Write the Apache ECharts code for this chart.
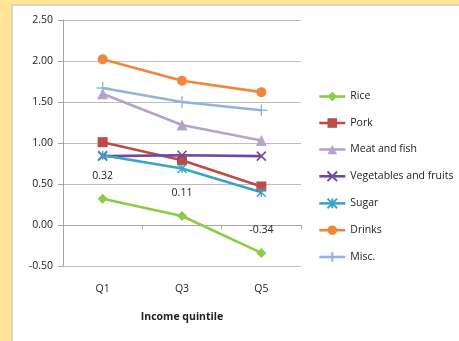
<!DOCTYPE html>
<html>
<head>
<meta charset="utf-8">
<script src="https://cdn.jsdelivr.net/npm/echarts@6/dist/echarts.min.js"></script>
<style>
  html, body { margin: 0; padding: 0; background: #FFE697; }
  #chart { width: 459px; height: 341px; }
</style>
</head>
<body>
<div id="chart"></div>
<script>
// Income quintiles on the category axis
const quintiles = ['Q1', 'Q3', 'Q5'];

// Elasticity per expenditure group
const rice = [0.32, 0.11, -0.34];
const pork = [1.01, 0.79, 0.47];
const meatFish = [1.60, 1.22, 1.03];
const vegFruits = [0.84, 0.85, 0.84];
const sugar = [0.85, 0.69, 0.40];
const drinks = [2.02, 1.76, 1.62];
const misc = [1.67, 1.50, 1.40];

const yTicks = { min: -0.5, max: 2.5, step: 0.5 };

const FONT = '"Open Sans", "Liberation Sans", sans-serif';

const X_PATH = 'path://M0,0L10,10M10,0L0,10';
const STAR_PATH = 'path://M0,0L10,10M10,0L0,10M5,0L5,10';
const PLUS_PATH = 'path://M0,5L10,5M5,0L5,10';

function lineSeries(name, data, color, symbol, size, extra) {
  return Object.assign({
    name: name,
    type: 'line',
    data: data,
    symbol: symbol,
    symbolSize: size,
    lineStyle: { color: color, width: 2.6 },
    itemStyle: { color: color },
    z: 3
  }, extra || {});
}

const chart = echarts.init(document.getElementById('chart'), null, { renderer: 'canvas' });

chart.setOption({
  animation: false,
  backgroundColor: '#FFE697',
  graphic: [{
    type: 'rect',
    shape: { x: 12, y: 5, width: 460, height: 350 },
    style: { fill: '#FFFFFF', stroke: '#D2CDB8', lineWidth: 1.5 },
    z: -10
  }],
  textStyle: { fontFamily: FONT },
  grid: { left: 63, right: 158, top: 20, bottom: 75 },
  legend: {
    orient: 'vertical',
    left: 318,
    top: 91,
    padding: 0,
    itemWidth: 26,
    itemHeight: 12,
    itemGap: 15.5,
    lineStyle: { width: 2.6 },
    textStyle: { fontFamily: FONT, fontSize: 10.5, color: '#222' },
    data: ['Rice', 'Pork', 'Meat and fish', 'Vegetables and fruits', 'Sugar', 'Drinks', 'Misc.']
  },
  xAxis: [{
    type: 'category',
    data: quintiles,
    boundaryGap: true,
    axisLine: { show: false, onZero: false },
    axisTick: { show: false },
    axisLabel: { margin: 18, fontSize: 10.5, color: '#222', fontFamily: FONT },
    name: 'Income quintile',
    nameLocation: 'middle',
    nameGap: 46,
    nameTextStyle: { fontSize: 10.5, fontWeight: 'bold', color: '#222', fontFamily: FONT }
  }, {
    type: 'category',
    data: quintiles,
    boundaryGap: true,
    position: 'bottom',
    axisLine: { show: true, onZero: true, lineStyle: { color: '#A6A6A6', width: 1 } },
    axisTick: { show: true, length: 4, lineStyle: { color: '#A6A6A6' } },
    axisLabel: { show: false }
  }],
  yAxis: {
    type: 'value',
    min: yTicks.min,
    max: yTicks.max,
    interval: yTicks.step,
    axisLine: { show: true, lineStyle: { color: '#A6A6A6', width: 1 } },
    axisTick: { show: true, length: 5, lineStyle: { color: '#A6A6A6' } },
    axisLabel: {
      margin: 10,
      fontSize: 10.5,
      color: '#222',
      fontFamily: FONT,
      formatter: v => v.toFixed(2)
    },
    splitLine: { show: true, lineStyle: { color: '#BDBDBD', width: 1 } }
  },
  series: [
    lineSeries('Rice', rice, '#8CCB45', 'diamond', 10, {
      label: {
        show: true,
        position: 'top',
        distance: 12,
        fontSize: 10.5,
        color: '#222',
        fontFamily: FONT,
        formatter: p => p.value.toFixed(2)
      }
    }),
    lineSeries('Pork', pork, '#BE4B48', 'rect', 10),
    lineSeries('Meat and fish', meatFish, '#B5A3CB', 'triangle', 11),
    lineSeries('Vegetables and fruits', vegFruits, '#7148A0', X_PATH, 9, {
      itemStyle: { color: '#7148A0', borderColor: '#7148A0', borderWidth: 1.6 }
    }),
    lineSeries('Sugar', sugar, '#3AA5BE', STAR_PATH, 9, {
      itemStyle: { color: '#3AA5BE', borderColor: '#3AA5BE', borderWidth: 1.4 }
    }),
    lineSeries('Drinks', drinks, '#F0873A', 'circle', 10),
    lineSeries('Misc.', misc, '#93B2DC', PLUS_PATH, 12, {
      itemStyle: { color: '#93B2DC', borderColor: '#93B2DC', borderWidth: 1.4 }
    })
  ]
});
</script>
</body>
</html>
